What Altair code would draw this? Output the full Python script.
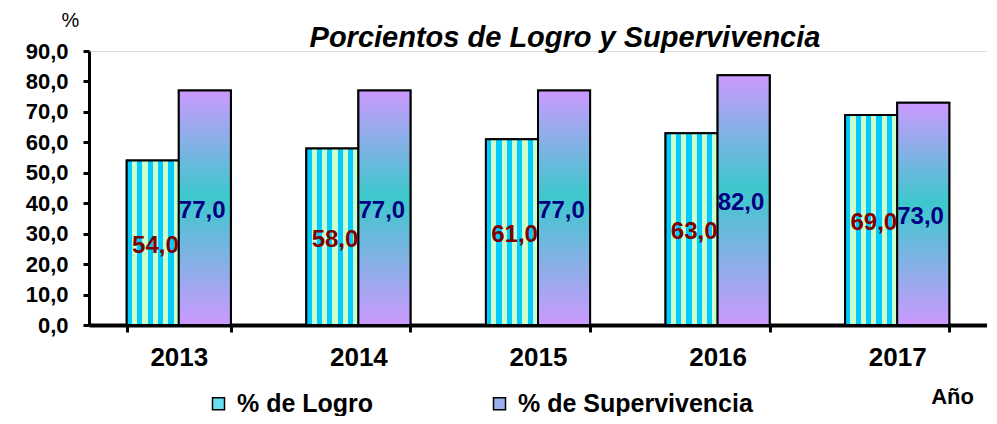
import altair as alt
import pandas as pd

# ---- data ----
years = ["2013", "2014", "2015", "2016", "2017"]
logro = [54.0, 58.0, 61.0, 63.0, 69.0]
supervivencia = [77.0, 77.0, 77.0, 82.0, 73.0]
series = ["% de Logro", "% de Supervivencia"]

rows = []
for i, yr in enumerate(years):
    rows.append({"year": yr, "serie": series[0], "value": logro[i]})
    rows.append({"year": yr, "serie": series[1], "value": supervivencia[i]})
df = pd.DataFrame(rows)

FONT = "Liberation Sans"
LBL = "replace(format(datum.value, '.1f'), '.', ',')"

# ---- fills ----
stripe_stops = []
n = 10
for k in range(n):
    c = "#00CCFF" if k % 2 == 0 else "#CCFFCC"
    stripe_stops.append({"offset": k / n, "color": c})
    stripe_stops.append({"offset": (k + 1) / n, "color": c})
grad_logro = {"gradient": "linear", "x1": 0, "y1": 0, "x2": 1, "y2": 0, "stops": stripe_stops}
grad_sup = {"gradient": "linear", "x1": 0, "y1": 0, "x2": 0, "y2": 1,
            "stops": [{"offset": 0, "color": "#CC99FF"},
                      {"offset": 0.45, "color": "#3CC8CC"},
                      {"offset": 1, "color": "#CC99FF"}]}

x_axis = alt.Axis(title="Año", labelAngle=0, labelFont=FONT, labelFontSize=26,
                  labelFontWeight="bold", labelColor="black", labelPadding=12,
                  domainColor="black", domainWidth=4, tickColor="black", tickWidth=3,
                  tickSize=7, tickBand="extent", grid=False,
                  titleFont=FONT, titleFontSize=22, titleFontWeight="bold", titleColor="black",
                  titleX=863, titleY=71, titleAlign="center", titleBaseline="middle")
y_axis = alt.Axis(title="%", values=list(range(0, 91, 10)), labelExpr=LBL,
                  labelFont=FONT, labelFontSize=22, labelFontWeight="bold", labelColor="black",
                  labelPadding=15, domainColor="black", domainWidth=3, tickColor="black",
                  tickWidth=3, tickSize=6, grid=False,
                  titleFont=FONT, titleFontSize=20, titleFontWeight="normal", titleColor="black",
                  titleAngle=0, titleX=-19, titleY=-31, titleAlign="center", titleBaseline="middle")

X = alt.X("year:N", sort=years, scale=alt.Scale(paddingInner=0.42, paddingOuter=0.21), axis=x_axis)
XO = alt.XOffset("serie:N", sort=series, scale=alt.Scale(paddingInner=0, paddingOuter=0))
yscale = alt.Scale(domain=[0, 90], nice=False)

base = alt.Chart(df)

legend_bars = base.mark_bar(stroke="black", strokeWidth=2).encode(
    x=X, xOffset=XO,
    y=alt.Y("value:Q", scale=yscale, axis=y_axis),
    fill=alt.Fill("serie:N", sort=series,
                  scale=alt.Scale(domain=series, range=["#66E0EE", "#9AB0EE"]),
                  legend=alt.Legend(title=None, orient="none", legendX=117, legendY=340,
                                    direction="horizontal", labelFont=FONT, labelFontSize=25,
                                    labelFontWeight="bold", labelColor="black", labelLimit=500,
                                    symbolType="square", symbolSize=144,
                                    symbolStrokeColor="black", symbolStrokeWidth=1.5,
                                    labelOffset=6, columnPadding=113)),
)

bars = base.mark_bar(stroke="black", strokeWidth=2).encode(
    x=X, xOffset=XO,
    y=alt.Y("value:Q", scale=yscale, axis=y_axis),
    fill=alt.condition(alt.datum.serie == series[0], alt.value(grad_logro), alt.value(grad_sup)),
)

text_logro = base.transform_filter(alt.datum.serie == series[0]).transform_calculate(
    mid="datum.value / 2", lbl=LBL
).mark_text(align="right", baseline="middle", dx=26, dy=3, font=FONT, fontSize=24,
            fontWeight="bold", color="#800000").encode(
    x=X, xOffset=XO, y=alt.Y("mid:Q", scale=yscale, axis=y_axis), text="lbl:N")

text_sup = base.transform_filter(alt.datum.serie == series[1]).transform_calculate(
    mid="datum.value / 2", lbl=LBL
).mark_text(align="left", baseline="middle", dx=-26, dy=3, font=FONT, fontSize=24,
            fontWeight="bold", color="#000080").encode(
    x=X, xOffset=XO, y=alt.Y("mid:Q", scale=yscale, axis=y_axis), text="lbl:N")

chart = alt.layer(legend_bars, bars, text_logro, text_sup).properties(
    width=898, height=274,
    autosize=alt.AutoSizeParams(type="none"),
    padding={"left": 81, "top": 43, "right": 0, "bottom": 91},
    title=alt.TitleParams("Porcientos de Logro y Supervivencia", font=FONT, fontSize=29,
                          fontWeight="bold", fontStyle="italic", color="black",
                          anchor="middle", dx=27, dy=47, offset=4),
).configure_view(stroke=None).configure(background="white")

chart.save("out.html", embed_options={"renderer": "svg", "actions": False})
